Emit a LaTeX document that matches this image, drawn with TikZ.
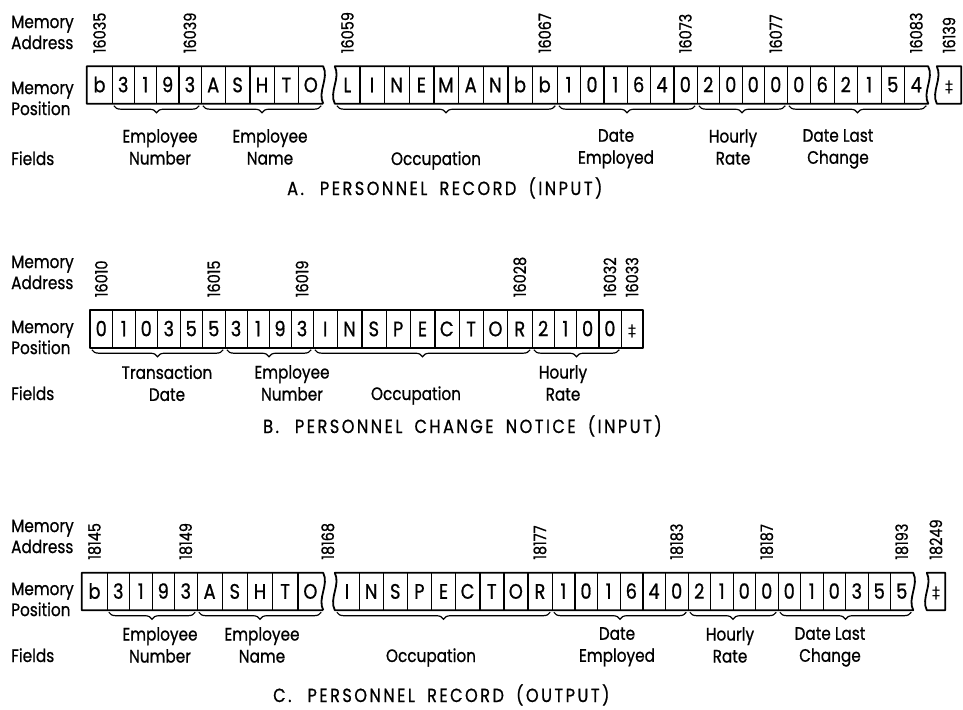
\documentclass[tikz,border=0pt]{standalone}
\usepackage{fontspec}
\setmainfont{Poppins}[FakeStretch=0.85, FakeBold=0.8]
\newfontfamily\letrero{Poppins}[FakeStretch=0.85, FakeBold=0.8, LetterSpace=13, WordSpace=1.8]
\newfontfamily\simbolo{DejaVu Sans}
\newcommand{\marca}{{\simbolo\fontsize{16}{16}\selectfont ‡}}
\usetikzlibrary{decorations.pathreplacing}

\begin{document}
\begin{tikzpicture}[x=1pt, y=1pt,
    celda/.style={minimum height=37pt, inner sep=0pt, text height=14.5pt, text depth=0pt, font={\fontsize{21}{21}\selectfont}},
    borde/.style={line width=1.8pt, line join=round},
    linea/.style={line width=1.3pt},
    dir/.style={rotate=90, anchor=west, inner sep=0pt, font={\fontsize{17}{17}\selectfont}},
    rotulo/.style={anchor=north west, align=left, inner sep=0pt, font={\fontsize{18}{21}\selectfont}},
    campo/.style={anchor=north, align=center, inner sep=0pt, font={\fontsize{18}{22}\selectfont}},
    texto/.style={anchor=base, inner sep=0pt, font={\fontsize{18}{21}\selectfont}},
    llave/.style={decorate, decoration={brace, mirror, amplitude=7pt, raise=2pt}, line width=1.2pt},
    titulo/.style={anchor=base west, inner sep=0pt, font={\letrero\fontsize{19}{19}\selectfont}}]

    \useasboundingbox (0,0) rectangle (963,-709);

    % A. Registro de personal (entrada)
    \node[rotulo] (ma1) at (11,-15.4) {Memory\\Address};
    \node[rotulo] (mp1) at (11,-81.4) {Memory\\Position};
    \node[texto, anchor=base west] (fa) at (11,-165) {Fields};
    \foreach \x/\w/\s/\letras in {87/25/1/{b}, 112/22.25/2/{3,1,9,3}, 201/24.4/6/{A,S,H,T,O},
        335/24.67/11/{L,I,N,E,M,A,N,b,b}, 557/23.33/20/{1,0,1,6,4,0}, 697/22.5/26/{2,0,0,0},
        787/23.5/30/{0,6,2,1,5,4}, 937/24/36/{\marca}}
        \foreach \c [count=\i from \s] in \letras
            \node[celda, minimum width=\w] (a\i) at ({\x+(\i-\s+0.5)*\w}, -85) {\c};
    % Bordes con cortes
    \draw[borde] (a10.south east) -- (a1.south west) -- (a1.north west) -- (a10.north east)
        .. controls +(6,-12) and +(-6,12) .. (a10.south east);
    \draw[borde] (a11.south west) .. controls +(-6,12) and +(6,-12) .. (a11.north west) -- (a35.north east)
        .. controls +(6,-12) and +(-6,12) .. (a35.south east) -- cycle;
    \draw[borde] (a36.south west) .. controls +(-6,12) and +(6,-12) .. (a36.north west)
        -- (a36.north east) -- (a36.south east) -- cycle;
    \foreach \i in {1,...,9,11,12,...,34} \draw[linea] (a\i.north east) -- (a\i.south east);
    % Direcciones
    \foreach \n/\t in {a1/16035, a5/16039, a11/16059, a19/16067, a25/16073, a29/16077, a35/16083, a36/16139}
        \node[dir] (d\n) at ([yshift=13pt]\n.north) {\t};
    % Campos
    \foreach \p/\q in {a2/a5, a6/a10, a11/a19, a20/a25, a26/a29, a30/a35}
        \draw[llave] ([xshift=2pt]\p.south west) -- ([xshift=-2pt]\q.south east);
    \node[campo] (ca1) at (160,-129) {Employee\\Number};
    \node[campo] (ca2) at (270,-129) {Employee\\Name};
    \node[texto] (ca3) at (436,-165) {Occupation};
    \node[campo] (ca4) at (616,-129) {Date\\Employed};
    \node[campo] (ca5) at (733,-129) {Hourly\\Rate};
    \node[campo] (ca6) at (838,-129) {Date Last\\Change};
    \node[titulo] (ta) at (287,-195) {A.\hspace{16pt}PERSONNEL RECORD (INPUT)};

    % B. Aviso de cambio (entrada)
    \node[rotulo] (ma2) at (11,-255.4) {Memory\\Address};
    \node[rotulo] (mp2) at (11,-320.4) {Memory\\Position};
    \node[texto, anchor=base west] (fb) at (11,-400) {Fields};
    \foreach \x/\w/\s/\letras in {90/22.5/1/{0,1,0,3,5,5}, 225/22/7/{3,1,9,3},
        313/24.33/11/{I,N,S,P,E,C,T,O,R}, 532/22.25/20/{2,1,0,0}, 621/22/24/{\marca}}
        \foreach \c [count=\i from \s] in \letras
            \node[celda, minimum width=\w] (b\i) at ({\x+(\i-\s+0.5)*\w}, -329) {\c};
    \draw[borde] (b1.south west) rectangle (b24.north east);
    \foreach \i in {1,...,23} \draw[linea] (b\i.north east) -- (b\i.south east);
    \foreach \n/\t in {b1/16010, b6/16015, b10/16019, b19/16028, b23/16032, b24/16033}
        \node[dir] (d\n) at ([yshift=13pt]\n.north) {\t};
    \foreach \p/\q in {b1/b6, b7/b10, b11/b19, b20/b23}
        \draw[llave] ([xshift=2pt]\p.south west) -- ([xshift=-2pt]\q.south east);
    \node[campo] (cb1) at (167,-365) {Transaction\\Date};
    \node[campo] (cb2) at (292,-365) {Employee\\Number};
    \node[texto] (cb3) at (416,-400) {Occupation};
    \node[campo] (cb4) at (563,-365) {Hourly\\Rate};
    \node[titulo] (tb) at (263,-433) {B.\hspace{16pt}PERSONNEL CHANGE NOTICE (INPUT)};

    % C. Registro de personal (salida)
    \node[rotulo] (ma3) at (11,-519.4) {Memory\\Address};
    \node[rotulo] (mp3) at (11,-582.4) {Memory\\Position};
    \node[texto, anchor=base west] (fc) at (11,-662) {Fields};
    \foreach \x/\w/\s/\letras in {82/25/1/{b}, 107/22.5/2/{3,1,9,3}, 197/25.2/6/{A,S,H,T,O},
        335/24.11/11/{I,N,S,P,E,C,T,O,R}, 552/22.67/20/{1,0,1,6,4,0}, 688/22.5/26/{2,1,0,0},
        778/22.5/30/{0,1,0,3,5,5}, 927/18/36/{\marca}}
        \foreach \c [count=\i from \s] in \letras
            \node[celda, minimum width=\w] (c\i) at ({\x+(\i-\s+0.5)*\w}, -591.5) {\c};
    \draw[borde] (c10.south east) -- (c1.south west) -- (c1.north west) -- (c10.north east)
        .. controls +(6,-12) and +(-6,12) .. (c10.south east);
    \draw[borde] (c11.south west) .. controls +(-6,12) and +(6,-12) .. (c11.north west) -- (c35.north east)
        .. controls +(6,-12) and +(-6,12) .. (c35.south east) -- cycle;
    \draw[borde] (c36.south west) .. controls +(-6,12) and +(6,-12) .. (c36.north west)
        -- (c36.north east) -- (c36.south east) -- cycle;
    \foreach \i in {1,...,9,11,12,...,34} \draw[linea] (c\i.north east) -- (c\i.south east);
    \foreach \n/\t in {c1/18145, c5/18149, c19/18177, c25/18183, c29/18187, c35/18193, c36/18249}
        \node[dir] (d\n) at ([yshift=13pt]\n.north) {\t};
    \node[dir] (dc11) at ([xshift=-7pt, yshift=13pt]c11.north west) {18168};
    \foreach \p/\q in {c2/c5, c6/c10, c11/c19, c20/c25, c26/c29, c30/c35}
        \draw[llave] ([xshift=2pt]\p.south west) -- ([xshift=-2pt]\q.south east);
    \node[campo] (cc1) at (160,-627) {Employee\\Number};
    \node[campo] (cc2) at (262,-627) {Employee\\Name};
    \node[texto] (cc3) at (431,-662) {Occupation};
    \node[campo] (cc4) at (617,-627) {Date\\Employed};
    \node[campo] (cc5) at (730,-627) {Hourly\\Rate};
    \node[campo] (cc6) at (830,-627) {Date Last\\Change};
    \node[titulo] (tc) at (273,-702) {C.\hspace{16pt}PERSONNEL RECORD (OUTPUT)};
\end{tikzpicture}
\end{document}
